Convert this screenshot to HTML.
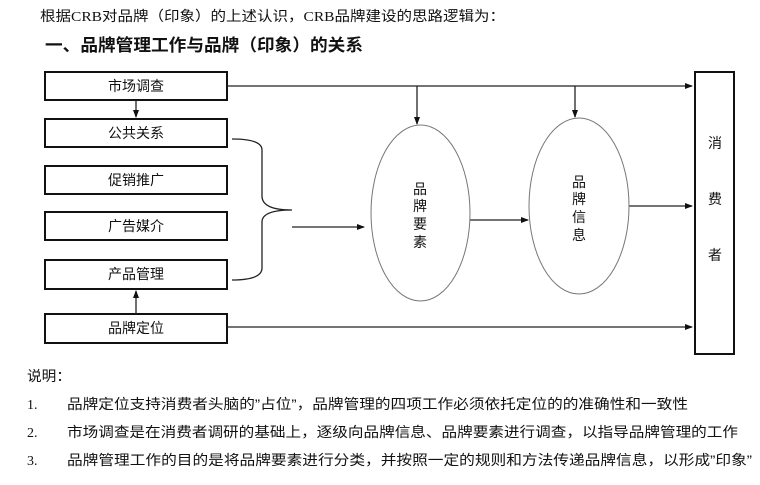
<!DOCTYPE html>
<html><head><meta charset="utf-8"><style>
body{margin:0;background:#fff;width:760px;height:480px;overflow:hidden}
svg text{font-family:"Liberation Sans","Noto Sans CJK SC",sans-serif;fill:#111}
svg text.s{font-family:"Liberation Serif","Noto Sans CJK SC",serif}
</style></head><body>
<svg width="760" height="480" viewBox="0 0 760 480" xmlns="http://www.w3.org/2000/svg">
<defs><marker id="a" markerWidth="8" markerHeight="8" refX="7" refY="4" orient="auto" markerUnits="userSpaceOnUse"><path d="M0,1 L8,4 L0,7 z" fill="#111"/></marker></defs>
<text class="s" x="40" y="21" font-size="14" textLength="465" lengthAdjust="spacingAndGlyphs">根据CRB对品牌（印象）的上述认识，CRB品牌建设的思路逻辑为：</text>
<text x="45" y="51" font-size="17" font-weight="bold" textLength="318" lengthAdjust="spacingAndGlyphs">一、品牌管理工作与品牌（印象）的关系</text>
<g fill="none" stroke="#111" stroke-width="2">
<rect x="45" y="72" width="182" height="28"/>
<rect x="45" y="119" width="182" height="28"/>
<rect x="45" y="166" width="182" height="28"/>
<rect x="45" y="212" width="182" height="28"/>
<rect x="45" y="260" width="182" height="29"/>
<rect x="45" y="314" width="182" height="29"/>
<rect x="695" y="72" width="39" height="282"/>
</g>
<g font-size="14" text-anchor="middle">
<text x="136" y="91">市场调查</text>
<text x="136" y="138">公共关系</text>
<text x="136" y="185">促销推广</text>
<text x="136" y="231">广告媒介</text>
<text x="136" y="279">产品管理</text>
<text x="136" y="333">品牌定位</text>
<text x="715" y="148">消</text>
<text x="715" y="204">费</text>
<text x="715" y="260">者</text>
<text x="420" y="194">品</text><text x="420" y="211">牌</text><text x="420" y="229">要</text><text x="420" y="247">素</text>
<text x="579" y="187">品</text><text x="579" y="204">牌</text><text x="579" y="222">信</text><text x="579" y="240">息</text>
</g>
<g fill="none" stroke="#222" stroke-width="1.3">
<line x1="227" y1="86" x2="692" y2="86" marker-end="url(#a)"/>
<line x1="417" y1="86" x2="417" y2="124" marker-end="url(#a)"/>
<line x1="575" y1="86" x2="575" y2="117" marker-end="url(#a)"/>
<line x1="136" y1="100" x2="136" y2="117" marker-end="url(#a)"/>
<line x1="136" y1="314" x2="136" y2="291" marker-end="url(#a)"/>
<line x1="227" y1="327" x2="692" y2="327" marker-end="url(#a)"/>
<line x1="292" y1="227" x2="364" y2="227" marker-end="url(#a)"/>
<line x1="470" y1="220" x2="528" y2="220" marker-end="url(#a)"/>
<line x1="629" y1="206" x2="692" y2="206" marker-end="url(#a)"/>
<path d="M232,139 Q262,139 262,150 L262,196 Q262,210 292,210 Q262,210 262,222 L262,268 Q262,280 232,280"/>
</g>
<g fill="none" stroke="#777" stroke-width="1">
<ellipse cx="420.5" cy="213" rx="49.5" ry="88"/>
<ellipse cx="579" cy="206" rx="50" ry="88"/>
</g>
<g font-size="14">
<text x="27" y="381" textLength="44" lengthAdjust="spacingAndGlyphs">说明：</text>
<text class="s" x="27" y="409">1.</text>
<text class="s" x="27" y="437">2.</text>
<text class="s" x="27" y="465">3.</text>
<text x="67" y="409" textLength="621" lengthAdjust="spacingAndGlyphs">品牌定位支持消费者头脑的”占位”，品牌管理的四项工作必须依托定位的的准确性和一致性</text>
<text x="67" y="437" textLength="671" lengthAdjust="spacingAndGlyphs">市场调查是在消费者调研的基础上，逐级向品牌信息、品牌要素进行调查，以指导品牌管理的工作</text>
<text x="67" y="465" textLength="685" lengthAdjust="spacingAndGlyphs">品牌管理工作的目的是将品牌要素进行分类，并按照一定的规则和方法传递品牌信息，以形成”印象”</text>
</g>
</svg>
</body></html>
